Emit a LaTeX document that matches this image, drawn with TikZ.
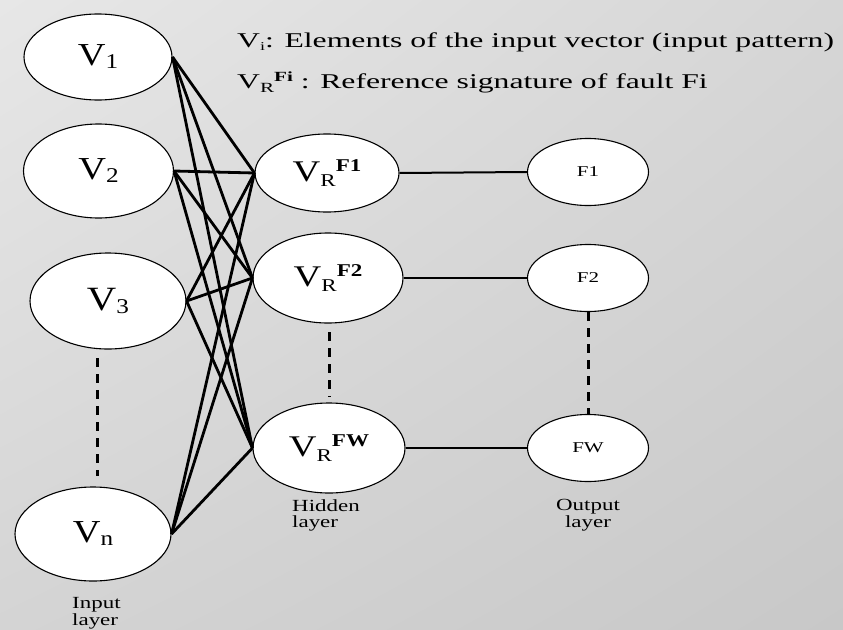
\documentclass[tikz,border=0pt]{standalone}
\usepackage{fontspec}
\setmainfont{Liberation Serif}
\usepackage{graphicx}
\usetikzlibrary{shapes.geometric,shadings}
\definecolor{bgA}{RGB}{231,231,231}
\definecolor{bgB}{RGB}{214,214,214}
\definecolor{bgC}{RGB}{212,212,212}
\definecolor{bgD}{RGB}{200,200,200}
\newcommand\vin[3]{\scalebox{1.2}[1]{\fontsize{#3}{#3}\selectfont V\raisebox{-3pt}{\fontsize{21}{21}\selectfont #1}}}
\newcommand\vrr[1]{\scalebox{1.28}[1]{\fontsize{30}{30}\selectfont V\raisebox{-5pt}{\fontsize{18}{18}\selectfont R}\raisebox{10pt}{\fontsize{18}{18}\selectfont\bfseries #1}}}
\newcommand\olab[1]{\scalebox{1.4}[1]{\fontsize{15}{15}\selectfont #1}}
\newcommand\lab[2]{\scalebox{1.35}[1]{\fontsize{17}{16}\selectfont\begin{tabular}{@{}#1@{}}#2\end{tabular}}}
\newcommand\hdr[1]{\scalebox{1.51}[1]{\fontsize{21}{21}\selectfont #1}}
\begin{document}
\begin{tikzpicture}[x=1pt,y=-1pt,
  neuron/.style={ellipse, draw, fill=white, line width=1.1pt, inner sep=0pt},
  conn/.style={line width=2.8pt},
  hconn/.style={line width=2pt},
  dots/.style={line width=3pt, dash pattern=on 9pt off 7pt}]
\useasboundingbox (0,0) rectangle (843,629);
\shade[upper left=bgA, upper right=bgB, lower left=bgC, lower right=bgD] (0,0) rectangle (843,629);
% input layer
\node[neuron, minimum width=148pt, minimum height=86pt] (v1) at (98,57) {\vin{1}{}{32}};
\node[neuron, minimum width=150pt, minimum height=94pt] (v2) at (98.5,171) {\vin{2}{}{32}};
\node[neuron, minimum width=156pt, minimum height=96pt] (v3) at (108,301) {\vin{3}{}{34}};
\node[neuron, minimum width=156pt, minimum height=94pt] (vn) at (93,534) {\vin{n}{}{32}};
% hidden layer
\node[neuron, minimum width=144pt, minimum height=78pt] (h1) at (327,173) {\vrr{F1}};
\node[neuron, minimum width=150pt, minimum height=90pt] (h2) at (328,278) {\vrr{F2}};
\node[neuron, minimum width=152pt, minimum height=90pt] (h3) at (329,448) {\vrr{FW}};
% output layer
\node[neuron, minimum width=121pt, minimum height=67pt] (o1) at (588,172) {\olab{F1}};
\node[neuron, minimum width=121pt, minimum height=67pt] (o2) at (588,278) {\olab{F2}};
\node[neuron, minimum width=121pt, minimum height=67pt] (o3) at (588,448) {\olab{FW}};
% connections input -> hidden
\foreach \i in {v1,v2,v3,vn}{
  \foreach \h in {h1,h2,h3}{
    \draw[conn] (\i.east) -- (\h.west);
  }
}
% hidden -> output
\draw[hconn] (h1.east) -- (o1.west);
\draw[hconn] (h2.east) -- (o2.west);
\draw[hconn] (h3.east) -- (o3.west);
% dashed continuation marks
\coordinate (da) at (97,358);
\coordinate (db) at (97,476);
\draw[dots] (da) -- (db);
\coordinate (dc) at (329,332);
\coordinate (dd) at (329,397);
\draw[dots] (dc) -- (dd);
\draw[dots] (o2.south) -- (o3.north);
% legend
\node[anchor=base west, inner sep=0pt] (t1) at (237,47) {\hdr{V\raisebox{-3pt}{\fontsize{12}{12}\selectfont i}: Elements of the input vector (input pattern)}};
\node[anchor=base west, inner sep=0pt] (t2) at (237,88) {\hdr{V\raisebox{-4pt}{\fontsize{14}{14}\selectfont R}\raisebox{7pt}{\fontsize{14}{14}\selectfont\bfseries Fi} : Reference signature of fault Fi}};
% layer labels
\node[anchor=north west, inner sep=0pt] (hl) at (292,499) {\lab{l}{Hidden\\layer}};
\node[anchor=north, inner sep=0pt] (ol) at (588,499) {\lab{c}{Output\\layer}};
\node[anchor=north west, inner sep=0pt] (il) at (72,597) {\lab{l}{Input\\layer}};
\end{tikzpicture}
\end{document}
